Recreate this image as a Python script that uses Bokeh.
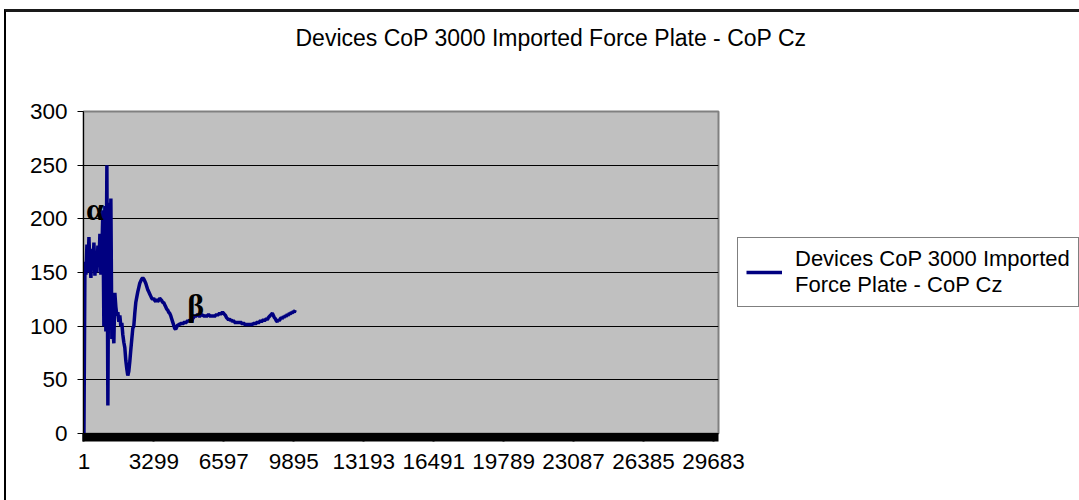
from bokeh.plotting import figure
from bokeh.models import (FixedTicker, Legend, LegendItem, Label, ColumnDataSource, Range1d, Title)
from bokeh.embed import file_html
from bokeh.resources import INLINE

# ---------------- data ----------------
title_text = "Devices CoP 3000 Imported Force Plate - CoP Cz"
series_name = "Devices CoP 3000 Imported\nForce Plate - CoP Cz"

x_tick_values = [1, 3299, 6597, 9895, 13193, 16491, 19789, 23087, 26385, 29683]
y_tick_values = [0, 50, 100, 150, 200, 250, 300]

# one reading every 47 samples
sample_step = 47
cz_values = [
    0, 160, 148, 176, 150, 183, 158, 145, 172, 152,
    178, 147, 168, 150, 175, 155, 186, 148, 170, 208,
    100, 212, 95, 250, 26, 215, 100, 219, 88, 100,
    84, 131, 118, 110, 113, 104, 110, 100, 103, 92,
    85, 80, 68, 60, 54, 58, 67, 78, 88, 98,
    100, 112, 122, 127, 132, 136, 140, 142, 144, 145,
    144, 142, 140, 137, 134, 132, 130, 128, 126, 125,
    126, 124, 123, 125, 123, 124, 126, 125, 124, 122,
    122, 120, 118, 116, 115, 113, 112, 110, 107, 104,
    101, 98, 97, 99, 101, 101, 102, 102, 103, 102,
    103, 104, 103, 104, 105, 104, 106, 105, 104, 107,
    108, 110, 109, 110, 111, 110, 109, 110, 111, 110,
    110, 109, 110, 109, 110, 111, 110, 109, 110, 109,
    110, 109, 110, 111, 110, 111, 112, 111, 112, 113,
    112, 111, 110, 108, 107, 106, 107, 105, 106, 104,
    105, 104, 103, 104, 103, 104, 103, 104, 103, 102,
    103, 102, 101, 102, 101, 102, 101, 102, 101, 102,
    102, 103, 102, 103, 104, 103, 104, 105, 104, 105,
    106, 105, 106, 107, 106, 108, 109, 110, 111, 112,
    110, 108, 107, 105, 104, 106, 105, 107, 108, 107,
    109, 108, 110, 109, 111, 110, 112, 111, 113, 112,
    114, 113, 115,
]
sample_index = [1 + sample_step * i for i in range(len(cz_values))]

alpha_pos = (518, 209)
beta_pos = (5265, 120)

# ---------------- figure ----------------
FONT = "Liberation Sans"

p = figure(
    frame_width=635, frame_height=322,
    x_range=Range1d(-20, 29920), y_range=Range1d(0, 300),
    output_backend="svg", toolbar_location=None,
    min_border_left=77, min_border_right=0,
    min_border_bottom=67, min_border_top=0,
)
p.styles = {"margin-top": "9px", "margin-left": "4px",
            "border-top": "3px solid #1a1a1a", "border-left": "2px solid #000000"}

p.title.text = title_text
p.title.align = "left"
p.title.offset = 212
p.title.text_font = FONT
p.title.text_font_size = "23px"
p.title.text_font_style = "normal"
p.title.text_color = "#000000"
p.title.standoff = 21

# blank spacer line between the chart title and the plot area
p.add_layout(Title(text=" ", text_font=FONT, text_font_size="23px",
                   standoff=22), "above")

p.background_fill_color = "#C0C0C0"
p.border_fill_color = "#FFFFFF"
p.outline_line_color = "#808080"
p.outline_line_width = 2

src = ColumnDataSource(dict(x=sample_index, y=cz_values))
r = p.line("x", "y", source=src, line_color="#000080", line_width=3.5)

# x axis: dense category ticks form the black band
xa = p.xaxis[0]
xa.ticker = FixedTicker(ticks=x_tick_values,
                        minor_ticks=list(range(-20, 29920, 60)))
xa.major_tick_in = 0
xa.major_tick_out = 8
xa.minor_tick_in = 0
xa.minor_tick_out = 8
xa.minor_tick_line_width = 2
xa.minor_tick_line_color = "#000000"
xa.major_tick_line_color = "#000000"
xa.major_tick_line_width = 2
xa.axis_line_color = "#000000"
xa.major_label_standoff = 12
xa.major_label_text_font = FONT
xa.major_label_text_font_size = "22.5px"
xa.major_label_text_color = "#000000"

ya = p.yaxis[0]
ya.ticker = FixedTicker(ticks=y_tick_values)
ya.major_tick_in = 0
ya.major_tick_out = 6
ya.minor_tick_out = 0
ya.minor_tick_in = 0
ya.axis_line_color = "#000000"
ya.major_tick_line_color = "#000000"
ya.major_label_standoff = 10
ya.major_label_text_font = FONT
ya.major_label_text_font_size = "22.5px"
ya.major_label_text_color = "#000000"

p.xgrid.visible = False
p.ygrid.ticker = FixedTicker(ticks=[50, 100, 150, 200, 250])
p.ygrid.grid_line_color = "#000000"
p.ygrid.grid_line_width = 1

for txt, (lx, ly) in (("α", alpha_pos), ("β", beta_pos)):
    p.add_layout(Label(x=lx, y=ly, text=txt, text_font="Liberation Serif",
                       text_font_style="bold", text_font_size="32px",
                       text_align="center", text_baseline="middle",
                       text_color="#000000"))

legend = Legend(items=[LegendItem(label=series_name, renderers=[r])],
                location="center_left", margin=19, padding=8,
                label_standoff=13, glyph_width=36,
                border_line_color="#000000", border_line_width=1,
                background_fill_color="#FFFFFF", background_fill_alpha=1,
                label_text_font=FONT, label_text_font_size="22px",
                label_text_color="#000000")
p.add_layout(legend, "right")

open("out.html", "w").write(file_html(p, INLINE))
